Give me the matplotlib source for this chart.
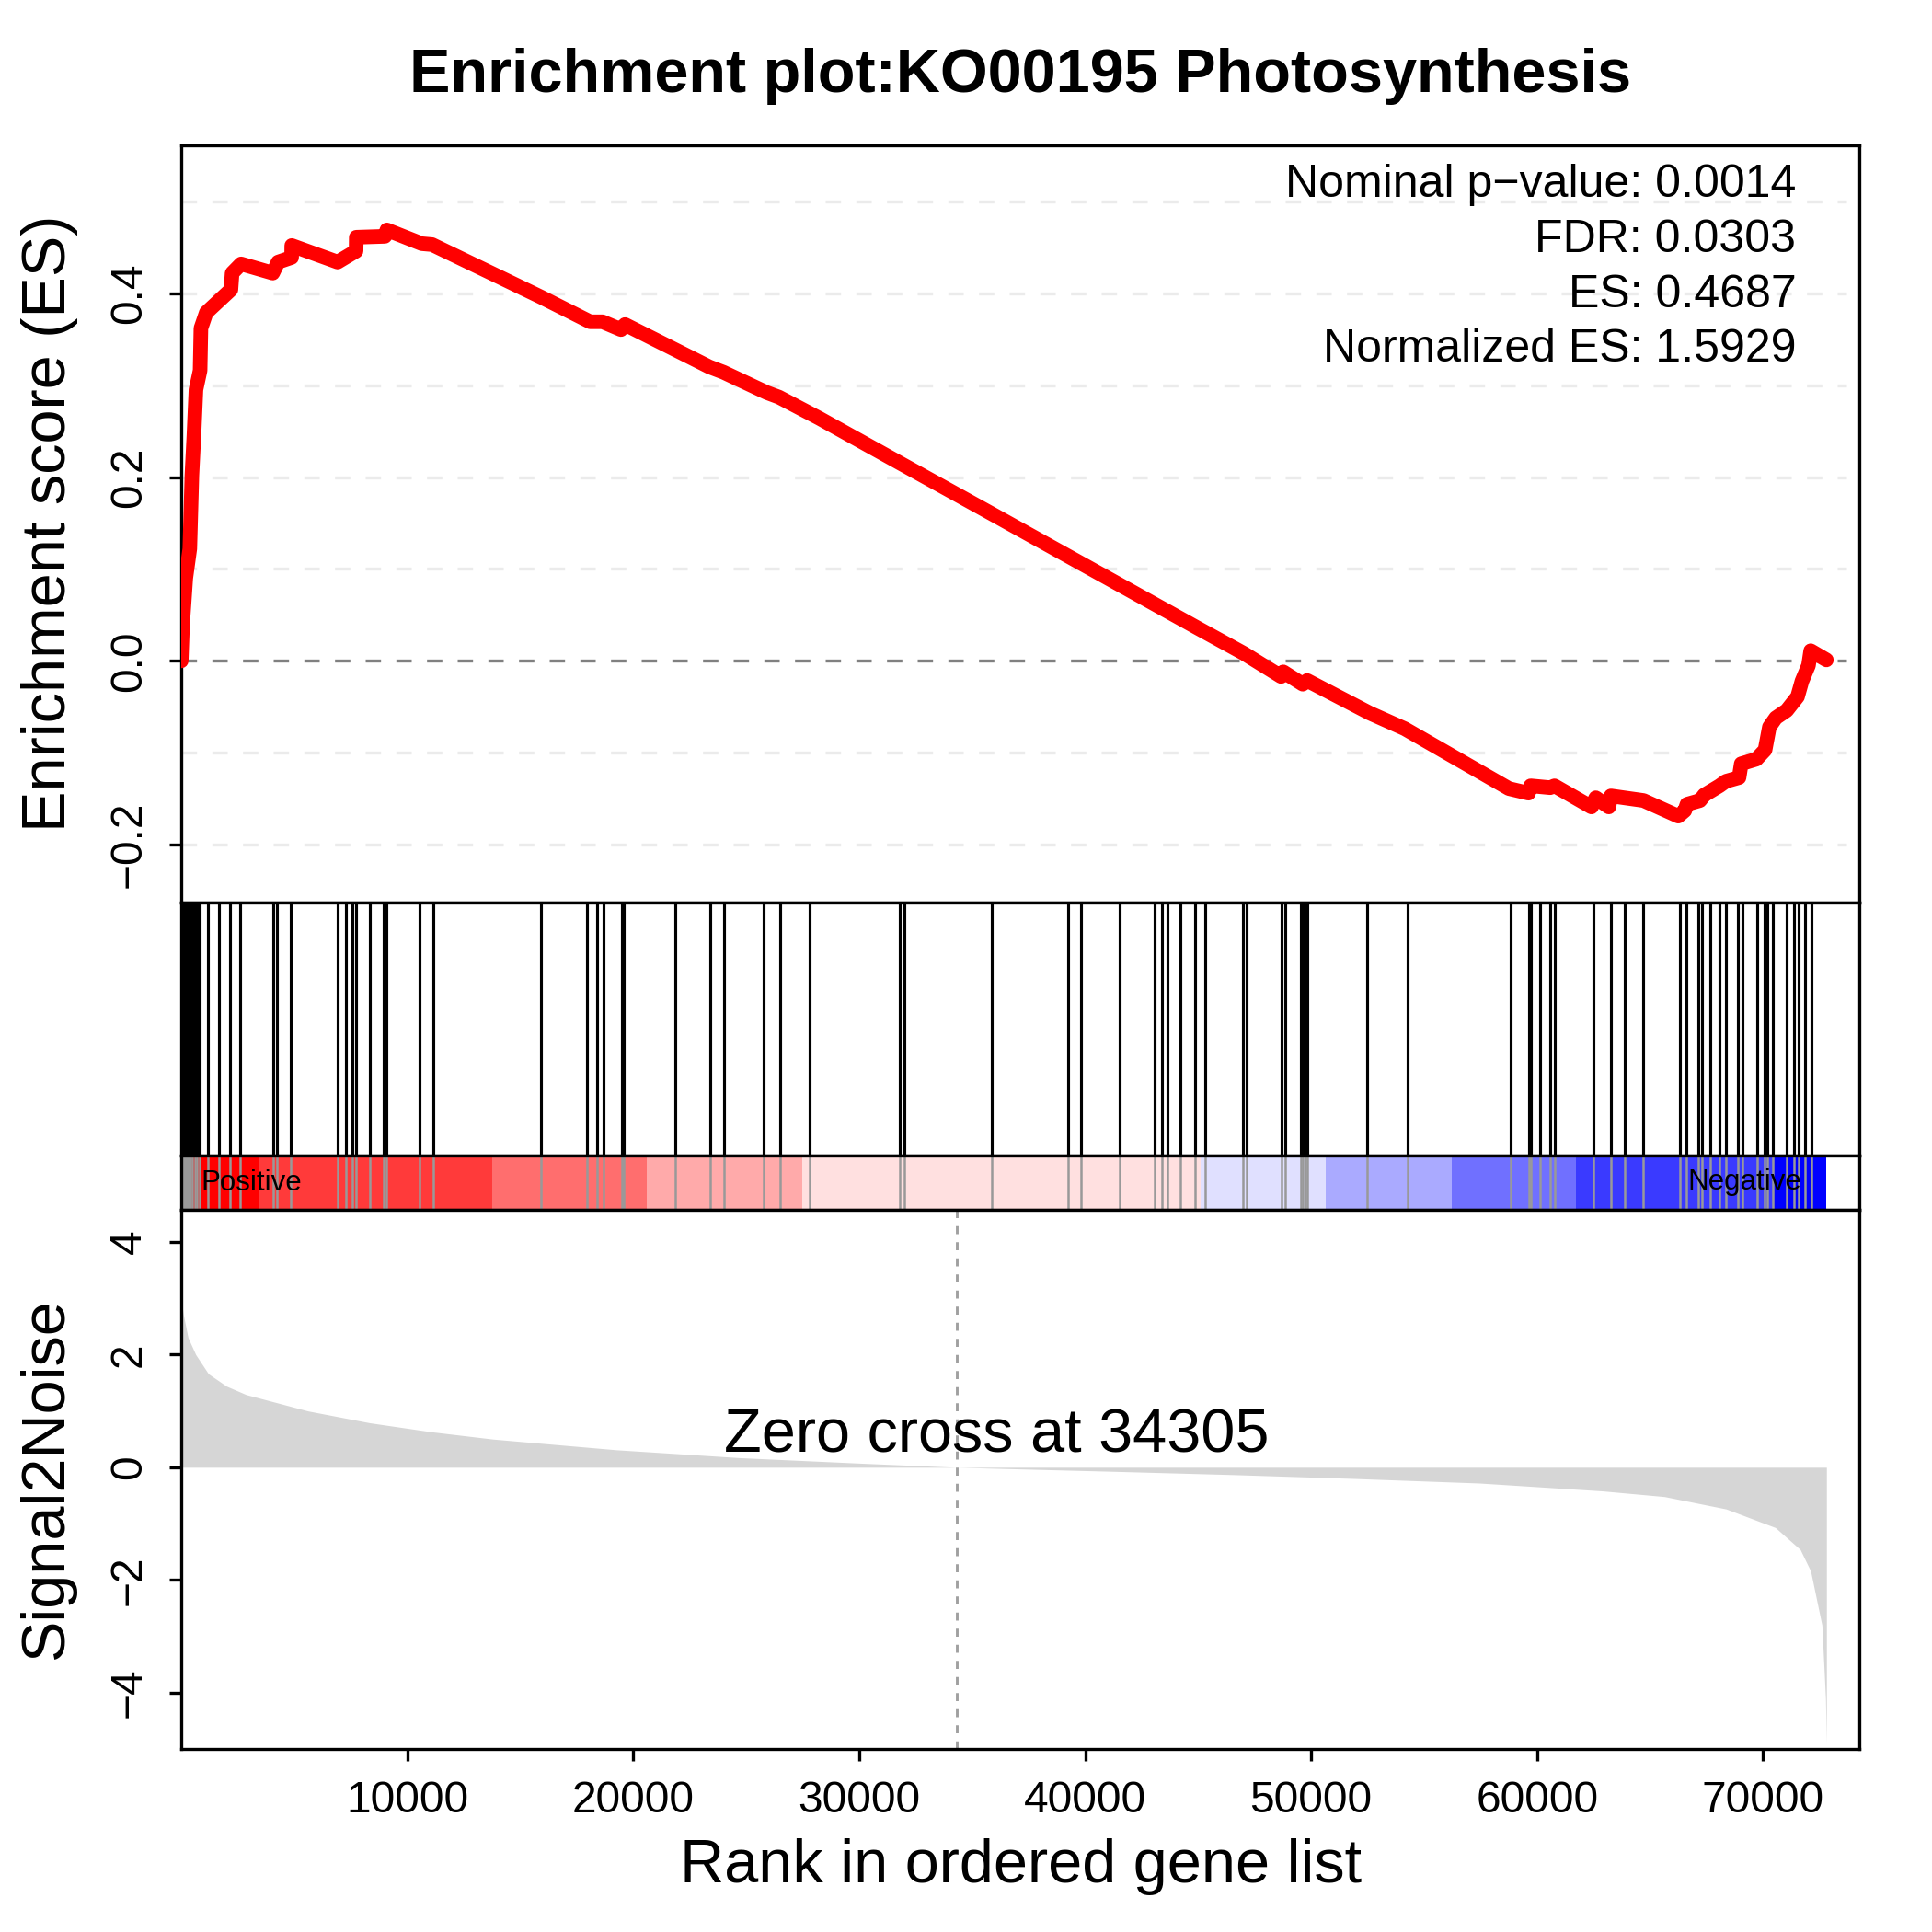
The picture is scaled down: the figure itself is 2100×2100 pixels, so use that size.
import numpy as np
import matplotlib
matplotlib.use("Agg")
import matplotlib.pyplot as plt

plt.rcParams['font.family'] = ['Liberation Sans', 'DejaVu Sans']

title = "Enrichment plot:KO00195 Photosynthesis"
n_genes = 72800
zero_cross = 34305
stats = ["Nominal p\u2212value: 0.0014", "FDR: 0.0303", "ES: 0.4687", "Normalized ES: 1.5929"]

# running enrichment score
es_rank = [0, 60, 200, 379, 472, 561, 651, 834, 871, 1107, 2198, 2251, 2650, 4050, 4286,
           4884, 4890, 6919, 7737, 7745, 9011, 9100, 10643, 11099, 15914, 18095, 18641,
           19459, 19638, 23362, 24001, 25905, 26450, 28234, 31780, 35870, 44926, 47031,
           48668, 48764, 49627, 49823, 52604, 54144, 58752, 59617, 59713, 60579, 60769,
           62402, 62593, 63171, 63266, 64707, 66244, 66532, 66631, 67204, 67395, 68071,
           68356, 68933, 69030, 69702, 70085, 70276, 70562, 71042, 71522, 71717, 72006,
           72104, 72800]
es_val = [0.0, 0.04, 0.09, 0.122, 0.202, 0.245, 0.295, 0.316, 0.362, 0.379, 0.404, 0.422,
          0.432, 0.422, 0.434, 0.439, 0.452, 0.434, 0.446, 0.461, 0.462, 0.469, 0.454, 0.453,
          0.396, 0.369, 0.369, 0.3605, 0.366, 0.320, 0.314, 0.292, 0.287, 0.264, 0.2156,
          0.160, 0.0364, 0.008, -0.017, -0.012, -0.0254, -0.0214, -0.057, -0.0739, -0.139,
          -0.144, -0.136, -0.138, -0.136, -0.159, -0.149, -0.159, -0.147, -0.152, -0.169,
          -0.163, -0.156, -0.152, -0.146, -0.136, -0.131, -0.127, -0.112, -0.107, -0.097,
          -0.072, -0.062, -0.054, -0.039, -0.022, -0.005, 0.011, 0.001]

# positions of gene set members in the ranked list
hit_ranks = [30, 70, 110, 150, 190, 230, 270, 310, 350, 390, 500, 600, 700,
             802, 1168, 1685, 2157, 2621, 4058, 4249, 4843, 6935, 7273, 7586, 7749, 8331,
             8970, 9076, 10558, 11152, 15914, 17949, 18397, 18669, 19483, 19593, 21856,
             23403, 24030, 25763, 26484, 27786, 31803, 31990, 35857, 39235, 39833, 41543,
             43061, 43403, 43631, 44217, 44852, 45328, 46985, 47160, 48678, 48857, 49533,
             49630, 49736, 49834, 52463, 54254, 58828, 59654, 59736, 60115, 60591, 60794,
             62491, 63265, 63887, 64701, 66329, 66602, 67131, 67306, 67644, 68079, 68352,
             68865, 69068, 69720, 70045, 70184, 70428, 71038, 71376, 71551, 71852, 72121]

# ranked list metric (Signal2Noise)
metric_rank = [0, 100, 300, 640, 1200, 2000, 2870, 5600, 8330, 11060, 13790, 19250, 24700,
               30160, 34305, 41060, 46520, 51980, 57440, 62900, 65630, 68360, 70540, 71640,
               72100, 72600, 72760, 72800]
metric_val = [2.97, 2.7, 2.3, 2.0, 1.66, 1.44, 1.29, 1.0, 0.79, 0.63, 0.5, 0.31, 0.17, 0.07,
              0.0, -0.07, -0.13, -0.2, -0.28, -0.42, -0.52, -0.74, -1.07, -1.46, -1.84,
              -2.8, -4.1, -4.9]

# heat bar segments
bar_edges = [0, 3475, 13740, 20610, 27460, 45096, 50647, 56207, 61717, 70440, 72800]
bar_colors = ["#FF0000", "#FF3A3A", "#FF6E6E", "#FFAAAA", "#FFE0E0",
              "#E0E0FF", "#AAAAFF", "#7070FF", "#3A3AFF", "#0000FF"]

xmax = n_genes * 1.02
L, W = 197 / 2100, (2021 - 197) / 2100

def fy(px):
    return 1 - px / 2100

fig = plt.figure(figsize=(7, 7), dpi=300)
ax1 = fig.add_axes([L, fy(981), W, fy(158) - fy(981)])
ax2 = fig.add_axes([L, fy(1256), W, fy(981) - fy(1256)])
ax3 = fig.add_axes([L, fy(1315), W, fy(1256) - fy(1315)])
ax4 = fig.add_axes([L, fy(1901), W, fy(1315) - fy(1901)])

for ax in (ax1, ax2, ax3, ax4):
    ax.set_xlim(0, xmax)
    for s in ax.spines.values():
        s.set_linewidth(0.8)
    ax.tick_params(length=3.2, width=0.8, labelsize=11.5, pad=5)

# ES panel
for g in [0.5, 0.4, 0.3, 0.2, 0.1, -0.1, -0.2]:
    ax1.plot([0, 73700], [g, g], color="#EBEBEB", lw=0.8, ls=(0, (5, 5)), zorder=1)
ax1.plot([0, 73700], [0, 0], color="#808080", lw=0.8, ls=(0, (5, 5)), zorder=1)
ax1.plot(es_rank, es_val, color="red", lw=3.8, solid_joinstyle="round",
         solid_capstyle="round", zorder=3)
ax1.set_ylim(-0.263, 0.561)
ax1.set_yticks([-0.2, 0.0, 0.2, 0.4])
ax1.set_yticklabels(["\u22120.2", "0.0", "0.2", "0.4"], rotation=90, va="center")
ax1.set_xticks([])
for i, s in enumerate(stats):
    ax1.text(71460, [0.518, 0.458, 0.398, 0.339][i], s, ha="right", va="center", fontsize=12)

# hits
ax2.vlines(hit_ranks, 0, 1, color="black", lw=0.75)
ax2.set_ylim(0, 1)
ax2.set_xticks([])
ax2.set_yticks([])

# heat bar
for i, c in enumerate(bar_colors):
    ax3.axvspan(bar_edges[i], bar_edges[i + 1], color=c, lw=0)
ax3.vlines(hit_ranks, 0, 1, color="#999999", lw=0.6)
ax3.set_ylim(0, 1)
ax3.set_xticks([])
ax3.set_yticks([])
ax3.text(850, 0.5, "Positive", fontsize=7.5, va="center", ha="left")
ax3.text(71700, 0.5, "Negative", fontsize=7.5, va="center", ha="right")

# ranked metric
ax4.fill_between(metric_rank, 0, metric_val, color="#D6D6D6", lw=0)
ax4.axvline(zero_cross, color="#A0A0A0", lw=0.7, ls=(0, (3, 3)))
ax4.set_ylim(-5.0, 4.57)
ax4.set_yticks([-4, -2, 0, 2, 4])
ax4.set_yticklabels(["\u22124", "\u22122", "0", "2", "4"], rotation=90, va="center")
ax4.set_xticks(range(10000, 70001, 10000))
ax4.text(36100, 0.55, "Zero cross at %d" % zero_cross, ha="center", va="center", fontsize=16)

fig.text(1109 / 2100, fy(83), title, ha="center", va="center", fontsize=16, weight="bold")
fig.text(54 / 2100, fy(569), "Enrichment score (ES)", rotation=90, ha="center", va="center",
         fontsize=16)
fig.text(51 / 2100, fy(1608), "Signal2Noise", rotation=90, ha="center", va="center", fontsize=16)
fig.text(1110 / 2100, fy(2029), "Rank in ordered gene list", ha="center", va="center", fontsize=16)

fig.savefig("out.png", dpi=300)
